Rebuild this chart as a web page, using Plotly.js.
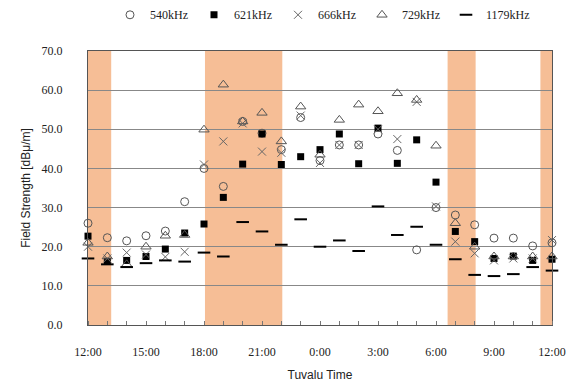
<!DOCTYPE html>
<html>
<head>
<meta charset="utf-8">
<script src="https://cdn.plot.ly/plotly-3.0.1.min.js"></script>
<style>html,body{margin:0;padding:0;background:#fff;}#chart{width:579px;height:385px;}</style>
</head>
<body>
<div id="chart"></div>
<script>
const hours = [0,1,2,3,4,5,6,7,8,9,10,11,12,13,14,15,16,17,18,19,20,21,22,23,24];
const tickVals = [0,3,6,9,12,15,18,21,24];
const tickText = ['12:00','15:00','18:00','21:00','0:00','3:00','6:00','9:00','12:00'];
const f540  = [26.0,22.3,21.5,22.8,24.0,31.5,40.0,35.4,52.0,49.0,44.8,53.0,42.0,46.0,46.0,48.8,44.6,19.2,30.0,28.1,25.6,22.2,22.2,20.2,21.0];
const f621  = [22.7,16.3,16.5,17.5,19.4,23.5,25.8,32.6,41.1,48.8,41.0,43.0,44.8,48.8,41.2,50.3,41.3,47.3,36.5,23.9,21.3,17.0,17.6,16.5,16.8];
const f666  = [20.0,17.0,18.5,18.0,17.4,18.7,41.0,46.9,51.5,44.3,44.0,53.5,41.4,46.0,46.0,50.0,47.5,57.0,30.3,21.3,18.3,16.5,17.0,17.0,21.7];
const f729  = [21.0,17.5,15.5,20.0,22.8,23.0,49.9,61.4,52.0,54.2,46.9,55.8,43.5,52.4,56.3,54.6,59.2,57.5,45.8,26.0,20.0,17.5,17.5,17.5,17.5];
const f1179 = [17.0,15.5,14.8,15.8,16.5,16.2,18.5,17.5,26.3,23.9,20.5,27.0,20.0,21.6,18.9,30.3,23.0,25.1,20.5,16.8,12.8,12.5,13.0,14.8,13.9];
const bandStart = [0, 6.05, 18.6, 23.4];
const bandEnd   = [1.2, 10.05, 20.05, 24];

const serif = 'Liberation Serif, Times New Roman, serif';
const sans = 'Liberation Sans, Arial, sans-serif';

const traces = [
  {name:'540kHz', y:f540, marker:{symbol:'circle-open', size:8, color:'#555', line:{width:1}}},
  {name:'621kHz', y:f621, marker:{symbol:'square', size:7, color:'#000'}},
  {name:'666kHz', y:f666, marker:{symbol:'x-thin-open', size:8, color:'#666', line:{width:1}}},
  {name:'729kHz', y:f729, marker:{symbol:'triangle-up-open', size:9, color:'#555', line:{width:1}}},
  {name:'1179kHz', y:f1179, marker:{symbol:'line-ew-open', size:9, color:'#000', line:{width:2}}}
].map(t => Object.assign({x:hours, type:'scatter', mode:'markers', cliponaxis:false}, t));

const shapes = bandStart.map((s,i) => ({
  type:'rect', xref:'x', yref:'paper', x0:s, x1:bandEnd[i], y0:0, y1:1,
  fillcolor:'#F6BE96', line:{width:0}, layer:'below'
}));

const layout = {
  width:579, height:385,
  margin:{l:88, r:27, t:51, b:60, autoexpand:false},
  paper_bgcolor:'#fff', plot_bgcolor:'#fff',
  showlegend:true,
  legend:{orientation:'h', x:0.5, xanchor:'center', y:1.185, yanchor:'top',
          font:{family:serif, size:12, color:'#222'}, itemwidth:30, tracegroupgap:0,
          entrywidth:39, entrywidthmode:'pixels'},
  shapes:shapes,
  xaxis:{range:[0,24], tickvals:tickVals, ticktext:tickText, showgrid:false, zeroline:false,
         showline:true, mirror:true, linecolor:'#555', linewidth:1,
         ticks:'', ticklabelstandoff:16, automargin:false,
         minor:{dtick:1, tick0:0, ticks:'inside', ticklen:4, tickcolor:'#777', showgrid:false},
         tickfont:{family:serif, size:12, color:'#222'},
         title:{text:'Tuvalu Time', font:{family:sans, size:12, color:'#222'}, standoff:12}},
  yaxis:{range:[0,70], dtick:10, tickformat:'.1f', showgrid:true, gridcolor:'#888', gridwidth:1,
         zeroline:false, showline:true, mirror:true, linecolor:'#555', linewidth:1,
         ticks:'', ticklabelstandoff:22, automargin:false,
         tickfont:{family:serif, size:12, color:'#222'},
         title:{text:'Field Strength [dB\u03bc/m]', font:{family:sans, size:12, color:'#222'}, standoff:8}}
};

Plotly.newPlot('chart', traces, layout, {staticPlot:true, displayModeBar:false});
</script>
</body>
</html>
